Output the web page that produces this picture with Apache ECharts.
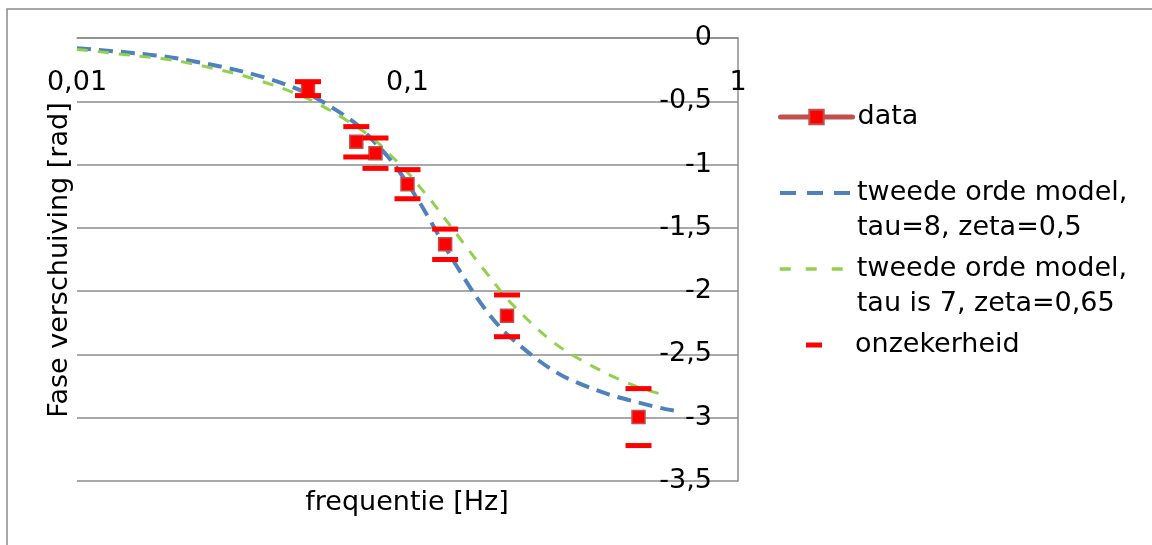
<!DOCTYPE html>
<html>
<head>
<meta charset="utf-8">
<title>Fase verschuiving</title>
<script src="https://cdn.jsdelivr.net/npm/echarts@6/dist/echarts.min.js"></script>
<style>
    html, body { margin: 0; padding: 0; background: #fff; }
    #chart { width: 1152px; height: 545px; }
</style>
</head>
<body>
<div id="chart"></div>
<script>
    // meetpunten
    var freq = [0.05, 0.07, 0.08, 0.1, 0.13, 0.2, 0.5];
    var phase = [-0.40, -0.82, -0.91, -1.155, -1.63, -2.195, -2.995];
    var err = [0.055, 0.12, 0.12, 0.115, 0.12, 0.165, 0.225];

    var modelFreq1 = [0.01, 0.015, 0.02, 0.03, 0.04, 0.05, 0.06, 0.07, 0.08, 0.09, 0.1, 0.11, 0.12, 0.13, 0.14, 0.16, 0.18, 0.2, 0.25, 0.3, 0.4, 0.5, 0.6, 0.67];
    var model1 = [-0.08, -0.12, -0.16, -0.25, -0.34, -0.44, -0.56, -0.68, -0.83, -0.98, -1.15, -1.32, -1.49, -1.65, -1.79, -2.03, -2.21, -2.34, -2.55, -2.68, -2.81, -2.88, -2.93, -2.95];

    var modelFreq2 = [0.01, 0.015, 0.02, 0.03, 0.04, 0.05, 0.06, 0.07, 0.08, 0.09, 0.1, 0.11, 0.12, 0.13, 0.14, 0.16, 0.18, 0.2, 0.25, 0.3, 0.4, 0.5, 0.58];
    var model2 = [-0.09, -0.14, -0.18, -0.28, -0.38, -0.48, -0.59, -0.70, -0.81, -0.94, -1.06, -1.19, -1.31, -1.43, -1.54, -1.74, -1.91, -2.06, -2.31, -2.47, -2.65, -2.76, -2.81];

    var xTickLabels = ['0,01', '0,1', '1'];
    var yTickLabels = ['0', '-0,5', '-1', '-1,5', '-2', '-2,5', '-3', '-3,5'];

    var names = ['data', 'tweede orde model,\ntau=8, zeta=0,5', 'tweede orde model,\ntau is 7, zeta=0,65', 'onzekerheid'];

    function pairs(xs, ys) {
        return xs.map(function (x, i) { return [x, ys[i]]; });
    }
    var caps = [];
    freq.forEach(function (f, i) {
        caps.push([f, phase[i] + err[i]]);
        caps.push([f, phase[i] - err[i]]);
    });

    var font = 'DejaVu Sans';
    var fs = 27;
    var gridColor = '#8c8c8c';
    var legendText = { fontSize: fs, lineHeight: 35, color: '#000', fontFamily: font };

    // blank first line so the first text line sits next to the icon
    function twoLine(name) {
        return name.indexOf('\n') > -1 ? '\n' + name : name;
    }

    var chart = echarts.init(document.getElementById('chart'));
    chart.setOption({
        animation: false,
        textStyle: { fontFamily: font },
        grid: { left: 77, top: 38, right: 414, bottom: 64, containLabel: false, outerBoundsMode: 'none' },
        xAxis: {
            type: 'log',
            logBase: 10,
            min: 0.01,
            max: 1,
            position: 'top',
            axisLine: { show: true, lineStyle: { color: gridColor, width: 1.5 } },
            axisTick: { show: false },
            splitLine: { show: false },
            axisLabel: {
                inside: true,
                margin: 31,
                color: '#000',
                fontSize: fs,
                fontFamily: font,
                formatter: function (v) {
                    return xTickLabels[Math.round(Math.log10(v)) + 2];
                }
            }
        },
        yAxis: {
            type: 'value',
            min: -3.5,
            max: 0,
            interval: 0.5,
            position: 'right',
            axisLine: { show: true, lineStyle: { color: gridColor, width: 1.5 } },
            axisTick: { show: false },
            splitLine: { show: true, lineStyle: { color: gridColor, width: 1.5 } },
            axisLabel: {
                inside: true,
                margin: 26,
                color: '#000',
                fontSize: fs,
                fontFamily: font,
                formatter: function (v) {
                    return yTickLabels[Math.round(-v / 0.5)];
                }
            }
        },
        legend: [
            {
                data: [{ name: names[0], lineStyle: { opacity: 1, width: 5, color: '#C0504D', cap: 'round' } }],
                orient: 'vertical', left: 778, top: 99.5, padding: 0,
                itemWidth: 72, itemHeight: 18,
                textStyle: legendText
            },
            {
                data: [{ name: names[1], itemStyle: { opacity: 0 }, lineStyle: { width: 4, type: [16, 11] } }],
                orient: 'vertical', left: 778, top: 140.5, padding: 0,
                itemWidth: 72, itemHeight: 18,
                formatter: twoLine,
                textStyle: legendText
            },
            {
                data: [{ name: names[2], itemStyle: { opacity: 0 }, lineStyle: { width: 3.5, type: [11, 15] } }],
                orient: 'vertical', left: 778, top: 216.5, padding: 0,
                itemWidth: 72, itemHeight: 18,
                formatter: twoLine,
                textStyle: legendText
            },
            {
                data: [{ name: names[3], icon: 'rect', itemStyle: { opacity: 1 }, textStyle: { padding: [0, 0, 0, 28] } }],
                orient: 'vertical', left: 806, top: 327.5, padding: 0,
                itemWidth: 16, itemHeight: 5,
                textStyle: legendText
            }
        ],
        graphic: [
            {
                type: 'rect', silent: true, z: -1,
                shape: { x: 7, y: 9, width: 1200, height: 600 },
                style: { fill: 'none', stroke: '#8a8a8a', lineWidth: 1.5 }
            },
            {
                type: 'text', silent: true,
                x: 60, y: 260, rotation: Math.PI / 2,
                style: { text: 'Fase verschuiving [rad]', font: fs + 'px "DejaVu Sans"', fill: '#000', align: 'center', verticalAlign: 'middle' }
            },
            {
                type: 'text', silent: true,
                x: 407, y: 503,
                style: { text: 'frequentie [Hz]', font: fs + 'px "DejaVu Sans"', fill: '#000', align: 'center', verticalAlign: 'middle' }
            }
        ],
        series: [
            {
                name: names[0],
                type: 'line',
                data: pairs(freq, phase),
                symbol: 'rect',
                symbolSize: 13,
                z: 4,
                itemStyle: { color: '#FF0000', borderColor: '#C0504D', borderWidth: 1.5 },
                lineStyle: { color: '#C0504D', width: 5, opacity: 0 }
            },
            {
                name: names[1],
                type: 'line',
                data: pairs(modelFreq1, model1),
                smooth: 0.3,
                showSymbol: false,
                z: 2,
                itemStyle: { color: '#4F81BD' },
                lineStyle: { color: '#4F81BD', width: 4, type: [14, 8] }
            },
            {
                name: names[2],
                type: 'line',
                data: pairs(modelFreq2, model2),
                smooth: 0.3,
                showSymbol: false,
                z: 2,
                itemStyle: { color: '#92D050' },
                lineStyle: { color: '#92D050', width: 3, type: [11, 10] }
            },
            {
                name: names[3],
                type: 'scatter',
                data: caps,
                symbol: 'rect',
                symbolSize: [26, 5],
                z: 5,
                itemStyle: { color: '#FF0000', opacity: 1 }
            }
        ]
    });
</script>
</body>
</html>
